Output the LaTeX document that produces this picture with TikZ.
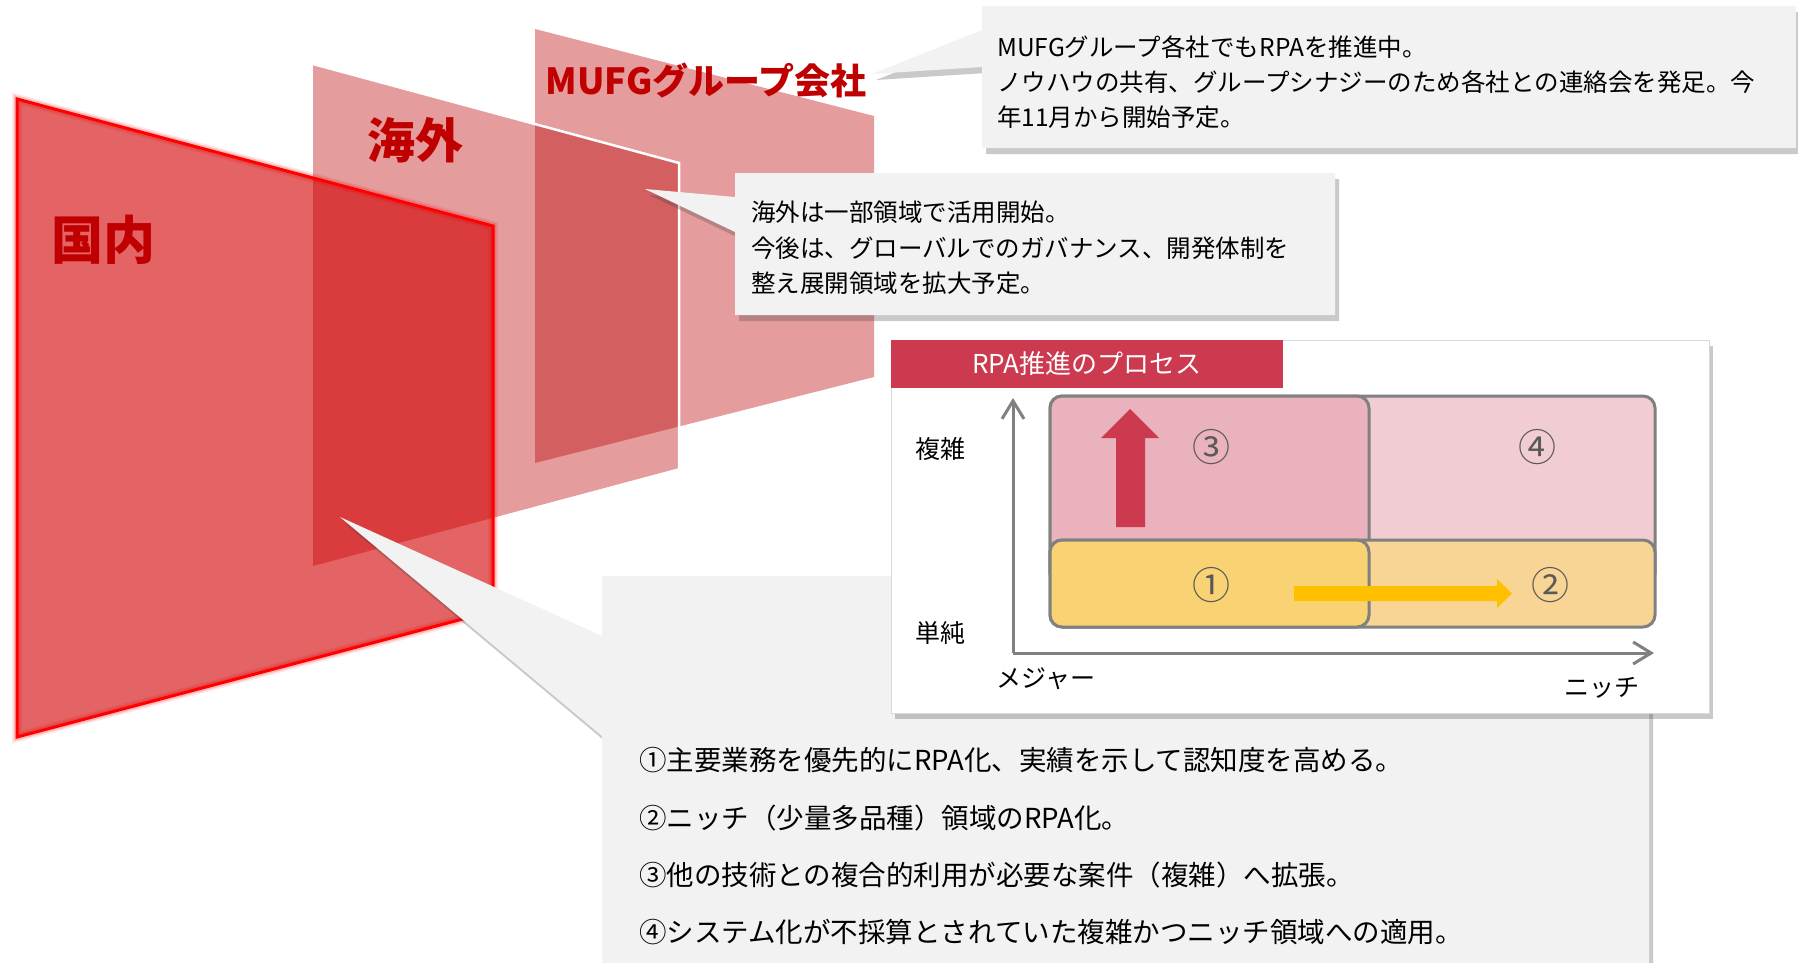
\documentclass[tikz,border=0pt]{standalone}
\usepackage{fontspec}
\setmainfont{Noto Sans CJK JP}
\usetikzlibrary{arrows.meta,shadows}
\definecolor{panelred}{RGB}{188,0,2}
\definecolor{domred}{RGB}{212,0,2}
\definecolor{lblred}{HTML}{C00000}
\definecolor{callgray}{HTML}{F2F2F2}
\definecolor{titlered}{HTML}{CC3A4F}
\definecolor{boxthree}{HTML}{E9B2BC}
\definecolor{boxfour}{HTML}{F2CCD3}
\definecolor{boxone}{HTML}{F9D273}
\definecolor{boxtwo}{HTML}{F8D594}
\definecolor{axisgray}{HTML}{808080}
\definecolor{numgray}{HTML}{595959}
\definecolor{arroworange}{HTML}{FFC000}
\begin{document}
\begin{tikzpicture}[x=1pt,y=-1pt,
  panel/.style={fill=panelred, fill opacity=0.39},
  biglabel/.style={inner sep=0, text=lblred},
  callout/.style={fill=callgray, drop shadow={shadow xshift=4pt, shadow yshift=-6pt, opacity=0.28, fill=black!75}},
  ctext/.style={anchor=west, inner sep=0, font=\fontsize{24.5}{30}\selectfont},
  btext/.style={anchor=west, inner sep=0, font=\fontsize{27.5}{32}\selectfont},
  qbox/.style={draw=axisgray, line width=3pt, rounded corners=12pt},
  axislabel/.style={inner sep=0, font=\fontsize{25}{30}\selectfont},
  numlabel/.style={inner sep=0, text=numgray, font=\fontsize{38}{40}\selectfont},
  axisline/.style={draw=axisgray, line width=3pt, -{Straight Barb[length=18pt,width=22pt,line width=3pt]}}
]
\useasboundingbox (0,0) rectangle (1798,963);
\fill[white] (0,0) rectangle (1798,963);

% ---------- panels ----------
\coordinate (m1) at (535,29);  \coordinate (m2) at (874,116);
\coordinate (m3) at (874,377); \coordinate (m4) at (535,463);
\coordinate (o1) at (313,64);  \coordinate (o2) at (679,163);
\coordinate (o3) at (679,468); \coordinate (o4) at (313,566);
\coordinate (d1) at (17,99);   \coordinate (d2) at (493,226);
\coordinate (d3) at (493,611); \coordinate (d4) at (17,737);

\path[panel] (m1) -- (m2) -- (m3) -- (m4) -- cycle;
\path[panel] (o1) -- (o2) -- (o3) -- (o4) -- cycle;
\draw[white, line width=2.5pt, line join=miter] (o1) -- (o2) -- (o3);
% glow of domestic panel border
\draw[red, line width=10pt, opacity=0.10, line join=miter] (d1) -- (d2) -- (d3) -- (d4) -- cycle;
\draw[red, line width=6.5pt, opacity=0.18, line join=miter] (d1) -- (d2) -- (d3) -- (d4) -- cycle;
\fill[domred, fill opacity=0.61] (d1) -- (d2) -- (d3) -- (d4) -- cycle;
\draw[red, line width=3pt, line join=miter] (d1) -- (d2) -- (d3) -- (d4) -- cycle;

% ---------- panel labels ----------
\node[biglabel, font=\bfseries\fontsize{36}{36}\selectfont] (lblMufg) at (706,80) {MUFGグループ会社};
\node[biglabel, font=\bfseries\fontsize{48}{48}\selectfont] (lblOverseas) at (415,140) {海外};
\node[biglabel, font=\bfseries\fontsize{52}{52}\selectfont] (lblDomestic) at (103,240) {国内};

% ---------- callout 1 (MUFG) ----------
\coordinate (t1) at (872,74);
\draw[callout, draw=none] (982,6) -- (1796,6) -- (1796,148) -- (982,148) -- (982,67) -- (t1) -- (982,30) -- cycle;
\node[ctext] (c1a) at (997,47) {MUFGグループ各社でもRPAを推進中。};
\node[ctext] (c1b) at (997,82) {ノウハウの共有、グループシナジーのため各社との連絡会を発足。今};
\node[ctext] (c1c) at (997,117) {年11月から開始予定。};

% ---------- callout 2 (overseas) ----------
\coordinate (t2) at (645,189);
\draw[callout, draw=none] (735,173) -- (1335,173) -- (1335,315) -- (735,315) -- (735,232) -- (t2) -- (735,197) -- cycle;
\node[ctext] (c2a) at (751,212) {海外は一部領域で活用開始。};
\node[ctext] (c2b) at (751,248) {今後は、グローバルでのガバナンス、開発体制を};
\node[ctext] (c2c) at (751,283) {整え展開領域を拡大予定。};

% ---------- callout 3 (domestic) ----------
\coordinate (t3) at (340,517);
\draw[callout, draw=none] (602,576) -- (1649,576) -- (1649,990) -- (602,990) -- (602,736) -- (t3) -- (602,636) -- cycle;
\node[btext] (c3a) at (639,760) {①主要業務を優先的にRPA化、実績を示して認知度を高める。};
\node[btext] (c3b) at (639,818) {②ニッチ（少量多品種）領域のRPA化。};
\node[btext] (c3c) at (639,875) {③他の技術との複合的利用が必要な案件（複雑）へ拡張。};
\node[btext] (c3d) at (639,932) {④システム化が不採算とされていた複雑かつニッチ領域への適用。};

% ---------- process chart ----------
\draw[fill=white, draw=black!15, line width=1pt, drop shadow={shadow xshift=4pt, shadow yshift=-6pt, opacity=0.28, fill=black!75}] (891,340) rectangle (1709,713);
\fill[titlered] (891,340) rectangle (1283,388);
\node[inner sep=0, text=white, font=\fontsize{26}{30}\selectfont] (title) at (1087,364) {RPA推進のプロセス};

\draw[qbox, fill=boxfour]  (1050,396) rectangle (1655,585);
\draw[qbox, fill=boxthree] (1050,396) rectangle (1369,585);
\draw[qbox, fill=boxtwo]   (1050,540) rectangle (1655,627);
\draw[qbox, fill=boxone]   (1050,540) rectangle (1369,627);

\fill[titlered] (1116,527) -- (1116,438) -- (1101,438) -- (1130,409) -- (1159,438) -- (1145,438) -- (1145,527) -- cycle;
\fill[arroworange] (1294,586) -- (1497,586) -- (1497,579) -- (1512,593.5) -- (1497,608) -- (1497,601) -- (1294,601) -- cycle;

\node[numlabel] (n3) at (1211,447) {③};
\node[numlabel] (n4) at (1537,447) {④};
\node[numlabel] (n1) at (1211,585) {①};
\node[numlabel] (n2) at (1550,585) {②};

\coordinate (origin) at (1013,653);
\coordinate (ytip) at (1013,398);
\coordinate (xtip) at (1654,653);
\draw[axisline] (origin) -- (ytip);
\draw[axisline] (origin) -- (xtip);

\node[axislabel] (complex) at (940,449) {複雑};
\node[axislabel] (simple) at (940,633) {単純};
\node[axislabel] (major) at (1046,679) {メジャー};
\node[axislabel] (niche) at (1602,688) {ニッチ};
\end{tikzpicture}
\end{document}
